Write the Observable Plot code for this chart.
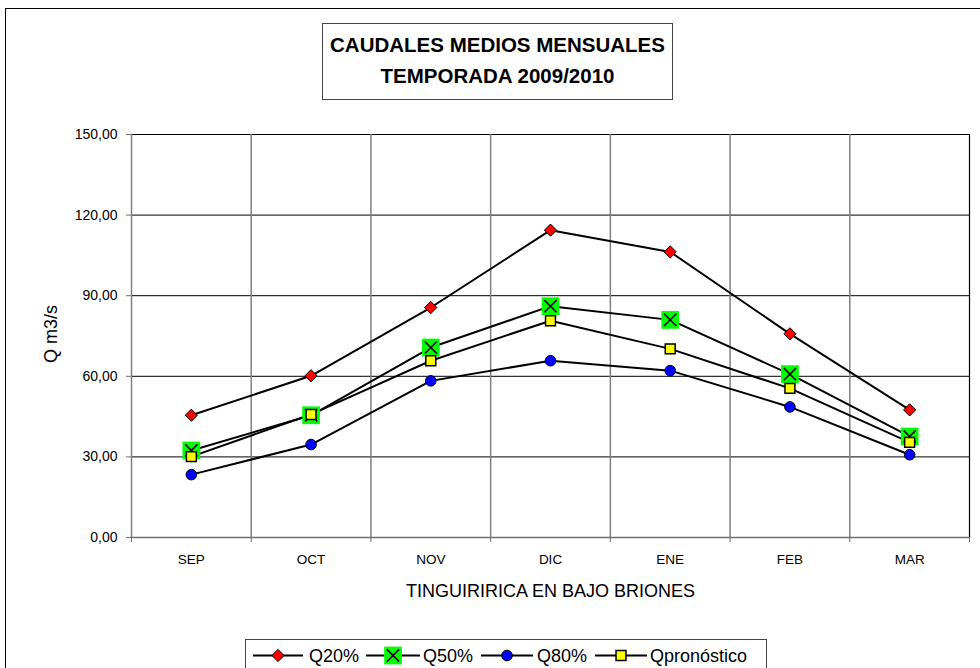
<!DOCTYPE html>
<html>
<head>
<meta charset="utf-8">
<script src="https://cdn.jsdelivr.net/npm/d3@7"></script>
<script src="https://cdn.jsdelivr.net/npm/@observablehq/plot@0.6"></script>
<style>
  html, body { margin: 0; padding: 0; background: #fff; }
  body { font-family: "Liberation Sans", Arial, sans-serif; }
  #wrap { position: relative; width: 980px; height: 668px; overflow: hidden; background: #fff; }
  #outer { position: absolute; left: 5px; top: 8px; width: 1000px; height: 700px; border: 1px solid #000; box-sizing: border-box; }
  #title { position: absolute; left: 322px; top: 23px; width: 351px; height: 77px; box-sizing: border-box;
           border: 1px solid #444; background: #fff; text-align: center; font-weight: bold; font-size: 20.5px;
           line-height: 30.5px; padding-top: 6px; color: #000; }
  #ytitle { position: absolute; left: 51px; top: 334px; width: 0; height: 0; }
  #ytitle span { position: absolute; left: 0; top: 0; transform: translate(-50%, -50%) rotate(-90deg);
                 white-space: nowrap; font-size: 18px; line-height: 18px; color: #000; }
  #plot { position: absolute; left: 0; top: 0; }
  #legend { position: absolute; left: 0; top: 0; }
</style>
</head>
<body>
<div id="wrap">
  <div id="outer"></div>
  <div id="plot"></div>
  <div id="ytitle"><span></span></div>
  <div id="title">CAUDALES MEDIOS MENSUALES<br>TEMPORADA 2009/2010</div>
  <div id="legend"></div>
</div>
<script>
// ---- data ----
const months = ["SEP", "OCT", "NOV", "DIC", "ENE", "FEB", "MAR"];
const q20 = [45.5, 60.2, 85.6, 114.4, 106.3, 75.8, 47.5];
const q50 = [32.4, 45.5, 70.7, 86.1, 81.0, 60.8, 37.6];
const q80 = [23.4, 34.6, 58.3, 65.8, 62.1, 48.6, 30.8];
const qpron = [30.1, 45.8, 65.8, 80.7, 70.2, 55.5, 35.4];
const seriesNames = ["Q20%", "Q50%", "Q80%", "Qpronóstico"];
const yTicks = [0, 30, 60, 90, 120, 150];
const xTitle = "TINGUIRIRICA EN BAJO BRIONES";
const yTitle = "Q m3/s";

const seriesValues = [q20, q50, q80, qpron];
const rows = [];
seriesNames.forEach((s, k) => seriesValues[k].forEach((v, i) => rows.push({ i, month: months[i], series: s, v })));
const idx = months.map((m, i) => i);
const bounds = d3.range(-0.5, months.length, 1);

const bySeries = s => rows.filter(r => r.series === s);
const fmt = d => d3.format(".2f")(d).replace(".", ",");

document.querySelector("#ytitle span").textContent = yTitle;

const chart = Plot.plot({
  width: 980,
  height: 668,
  marginLeft: 131,
  marginRight: 11,
  marginTop: 134,
  marginBottom: 131,
  x: { type: "linear", domain: [-0.5, months.length - 0.5], axis: null },
  y: { domain: [0, 150], axis: null },
  style: { fontFamily: "Liberation Sans, Arial, sans-serif", background: "transparent", overflow: "visible", color: "#000" },
  marks: [
    Plot.ruleY(yTicks.filter(t => t > 0), { stroke: "#000", strokeWidth: 1 }),
    Plot.ruleX(bounds.slice(1, -1), { stroke: "#808080", strokeWidth: 1.5 }),
    Plot.ruleX([bounds[bounds.length - 1]], { stroke: "#000", strokeWidth: 1.2 }),
    Plot.ruleX([bounds[0]], { stroke: "#808080", strokeWidth: 1.5 }),
    Plot.ruleY([0], { stroke: "#707070", strokeWidth: 1.5 }),
    Plot.axisY({ ticks: yTicks, tickSize: 5, tickPadding: 9, tickFormat: fmt, fontSize: 14, label: null, stroke: "#707070", strokeOpacity: 1 }),
    Plot.axisX({ ticks: bounds, tickSize: 5, tickFormat: () => "", label: null, stroke: "#707070", strokeOpacity: 1 }),
    Plot.axisX({ ticks: idx, tickSize: 0, tickPadding: 17, tickFormat: i => months[i], fontSize: 13.5, label: null }),
    Plot.text([xTitle], { frameAnchor: "bottom", lineAnchor: "middle", textAnchor: "middle", dy: 54, fontSize: 18, fill: "#000" }),
    // lines
    ...seriesNames.map(s => Plot.line(bySeries(s), { x: "i", y: "v", stroke: "#000", strokeWidth: 2 })),
    // markers
    Plot.dot(bySeries("Q20%"), { x: "i", y: "v", symbol: d3.symbolDiamond2, r: 5.5, fill: "#ff0000", stroke: "#000", strokeWidth: 1 }),
    Plot.dot(bySeries("Q50%"), { x: "i", y: "v", symbol: d3.symbolSquare, r: 10, fill: "#00ff00", stroke: "none" }),
    Plot.dot(bySeries("Q50%"), { x: "i", y: "v", symbol: d3.symbolTimes, r: 5.6, fill: "none", stroke: "#000", strokeWidth: 1.6 }),
    Plot.dot(bySeries("Q80%"), { x: "i", y: "v", symbol: d3.symbolCircle, r: 5.3, fill: "#0000ff", stroke: "#000", strokeWidth: 1 }),
    Plot.dot(bySeries("Qpronóstico"), { x: "i", y: "v", symbol: d3.symbolSquare, r: 5.6, fill: "#ffff00", stroke: "#000", strokeWidth: 1.5 })
  ]
});
document.getElementById("plot").appendChild(chart);

// ---- legend ----
const legendItems = [
  { name: seriesNames[0], x0: 253, x1: 303, tx: 309 },
  { name: seriesNames[1], x0: 366, x1: 420, tx: 423 },
  { name: seriesNames[2], x0: 481, x1: 533, tx: 537 },
  { name: seriesNames[3], x0: 595, x1: 647, tx: 650 }
];
const lsvg = d3.select("#legend").append("svg").attr("width", 980).attr("height", 668);
lsvg.append("rect").attr("x", 245.5).attr("y", 639.5).attr("width", 521).attr("height", 60)
  .attr("fill", "#fff").attr("stroke", "#444").attr("stroke-width", 1);
const ly = 655.5;
legendItems.forEach((it, k) => {
  const g = lsvg.append("g");
  const cx = (it.x0 + it.x1) / 2;
  g.append("line").attr("x1", it.x0).attr("x2", it.x1).attr("y1", ly).attr("y2", ly).attr("stroke", "#000").attr("stroke-width", 2);
  const area = r => Math.PI * r * r;
  if (k === 0) {
    g.append("path").attr("d", d3.symbol(d3.symbolDiamond2, area(5.5))()).attr("transform", `translate(${cx},${ly})`)
      .attr("fill", "#ff0000").attr("stroke", "#000");
  } else if (k === 1) {
    g.append("path").attr("d", d3.symbol(d3.symbolSquare, area(10))()).attr("transform", `translate(${cx},${ly})`).attr("fill", "#00ff00");
    g.append("path").attr("d", d3.symbol(d3.symbolTimes, area(5.6))()).attr("transform", `translate(${cx},${ly})`)
      .attr("fill", "none").attr("stroke", "#000").attr("stroke-width", 1.6);
  } else if (k === 2) {
    g.append("circle").attr("cx", cx).attr("cy", ly).attr("r", 5.3).attr("fill", "#0000ff").attr("stroke", "#000");
  } else {
    g.append("path").attr("d", d3.symbol(d3.symbolSquare, area(5.6))()).attr("transform", `translate(${cx},${ly})`)
      .attr("fill", "#ffff00").attr("stroke", "#000").attr("stroke-width", 1.5);
  }
  g.append("text").attr("x", it.tx).attr("y", ly).attr("dy", "0.35em").attr("font-size", 18)
    .attr("font-family", "Liberation Sans, Arial, sans-serif").attr("fill", "#000").text(it.name);
});
</script>
</body>
</html>
